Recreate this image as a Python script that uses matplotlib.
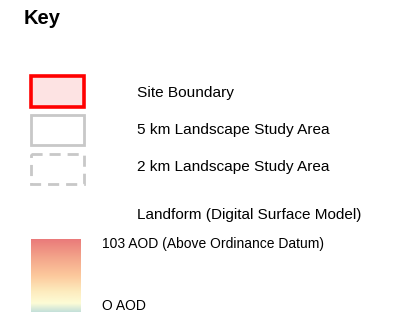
import numpy as np
import matplotlib.pyplot as plt
from matplotlib.patches import Rectangle
from matplotlib.colors import LinearSegmentedColormap

plt.rcParams['font.family'] = ['Liberation Sans', 'DejaVu Sans']

title = "Key"
boundary_labels = ["Site Boundary", "5 km Landscape Study Area", "2 km Landscape Study Area"]
boundary_edges = ["#ff0000", "#c8c8c8", "#c8c8c8"]
boundary_fills = ["#fde3e3", "none", "none"]
boundary_styles = ["-", "-", "--"]
landform_label = "Landform (Digital Surface Model)"
ramp_top_label = "103 AOD (Above Ordinance Datum)"
ramp_bottom_label = "O AOD"
ramp_colors = ["#c4e0da", "#fdfcd6", "#fde9bb", "#fcc89c", "#f3a48a", "#ea7a7a"]
ramp_stops = [0.0, 0.12, 0.3, 0.5, 0.75, 1.0]

W, H = 398, 321
fig = plt.figure(figsize=(W / 100, H / 100), dpi=100)
ax = fig.add_axes([0, 0, 1, 1])
ax.set_xlim(0, W)
ax.set_ylim(H, 0)
ax.axis('off')

ax.text(24, 19, title, fontsize=14.5, fontweight='bold', va='center', ha='left')

# boundary boxes
box_y = [75.5, 114.5, 153.5]
box_h = [31, 30, 30]
box_lw = [2.6, 2.0, 2.0]
label_y = [93, 130, 167]
for i, lab in enumerate(boundary_labels):
    r = Rectangle((31, box_y[i]), 53, box_h[i], facecolor=boundary_fills[i],
                  edgecolor=boundary_edges[i], linewidth=box_lw[i],
                  linestyle=boundary_styles[i])
    if boundary_styles[i] == "--":
        r.set_linestyle((0, (4, 2.5)))
    ax.add_patch(r)
    ax.text(137, label_y[i], lab, fontsize=11.1, va='center', ha='left')

ax.text(137, 215, landform_label, fontsize=11, va='center', ha='left')

# gradient ramp
cmap = LinearSegmentedColormap.from_list("dsm", list(zip(ramp_stops, ramp_colors)))
grad = np.linspace(1, 0, 256).reshape(-1, 1)
ax.imshow(grad, cmap=cmap, aspect='auto', extent=(31, 81, 312, 239), interpolation='bilinear')
ax.set_xlim(0, W)
ax.set_ylim(H, 0)

ax.text(102, 244, ramp_top_label, fontsize=10, va='center', ha='left')
ax.text(102, 306, ramp_bottom_label, fontsize=10, va='center', ha='left')

fig.savefig("out.png", dpi=100)
